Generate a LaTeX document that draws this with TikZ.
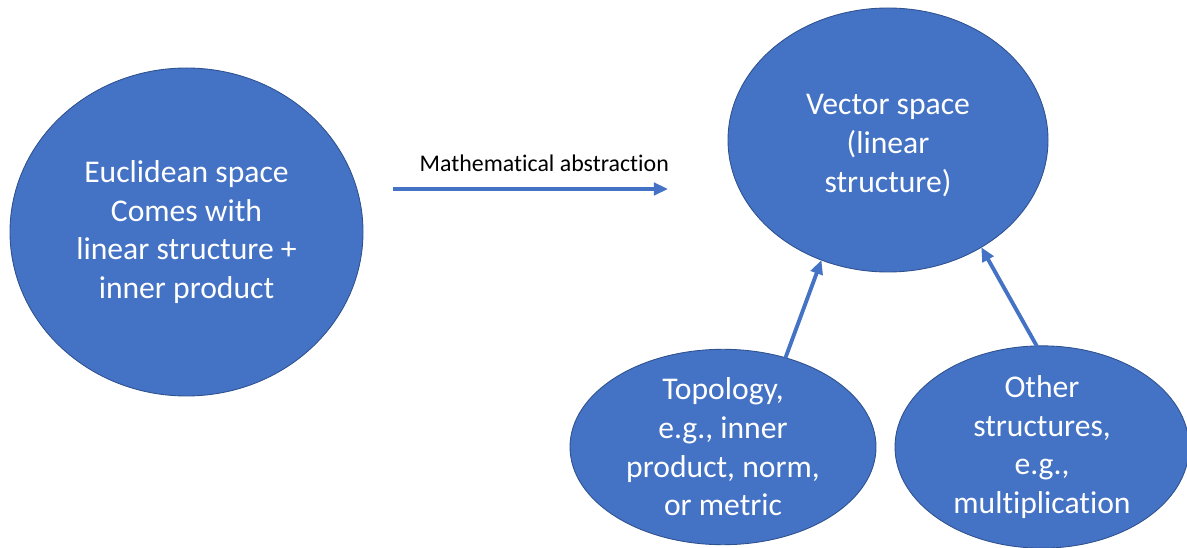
\documentclass[tikz,border=0pt]{standalone}
\usepackage{fontspec}
\setmainfont[Ligatures=NoCommon]{Carlito}
\usetikzlibrary{
    arrows.meta,
    positioning,
    shapes.geometric
}
\definecolor{officeblue}{RGB}{68,114,196}
\definecolor{rimblue}{RGB}{47,82,143}
\definecolor{ink}{RGB}{0,0,0}
\tikzset{
    line cap=round,
    line join=round,
    bubble/.style={
        ellipse,
        draw=rimblue,
        line width=0.5pt,
        fill=officeblue,
        text=white,
        inner sep=0pt,
        outer sep=0pt,
        align=center,
        font=\fontsize{18}{22}\selectfont
    },
    liftarrow/.style={
        -{Triangle[length=8pt,width=7pt]},
        draw=officeblue,
        line width=2.2pt,
        line cap=butt
    },
    annot/.style={
        font=\fontsize{13.6}{16}\selectfont,
        text=ink
    }
}

\begin{document}
\begin{tikzpicture}
\useasboundingbox (0,0) rectangle (23.74,10.94);

% Nodes
\node[bubble, minimum width=7.06cm, minimum height=6.56cm] (euclid) at (3.73, 6.30)
    {Euclidean space\\Comes with\\linear structure +\\inner product};
\node[bubble, minimum width=6.40cm, minimum height=5.28cm] (vector) at (17.76, 8.14)
    {\\[-0.15cm]Vector space\\(linear\\structure)};
\node[bubble, minimum width=6.12cm, minimum height=3.88cm] (topology) at (14.46, 2.00)
    {Topology,\\e.g., inner\\product, norm,\\or metric};
\node[bubble, minimum width=5.88cm, minimum height=3.96cm] (other) at (20.84, 2.00)
    {Other\\structures,\\e.g.,\\multiplication};

% Abstraction arrow (free ends)
\coordinate (abs start) at (7.86, 7.16);
\coordinate (abs end) at (13.36, 7.16);
\draw[liftarrow] (abs start) -- (abs end)
    node[annot, pos=0.55, above=0.2cm] (abslabel) {Mathematical abstraction};

% Edges
\draw[liftarrow] (topology.55.4) -- (vector.241.9);
\draw[liftarrow] (other.93) -- (vector.311);
\end{tikzpicture}
\end{document}
